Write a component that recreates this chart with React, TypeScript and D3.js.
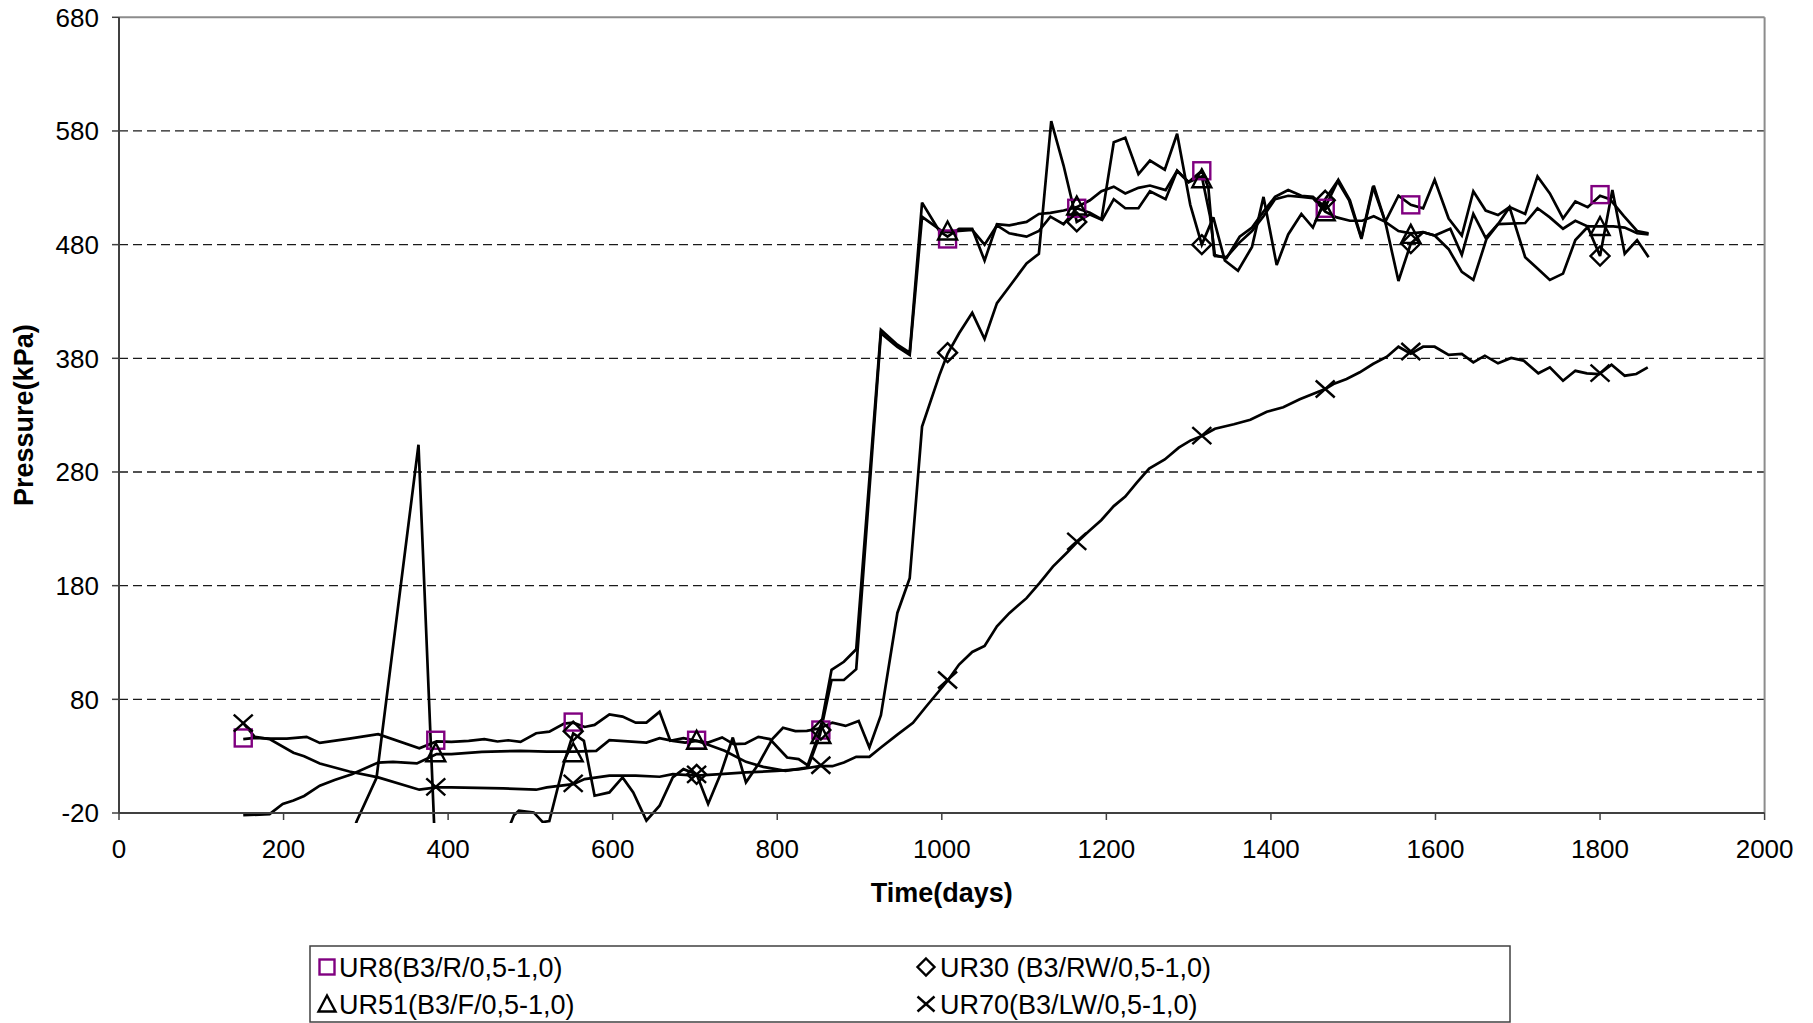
import React from "react";
import * as d3 from "d3";

type P = [number, number];

const xTicks = [0, 200, 400, 600, 800, 1000, 1200, 1400, 1600, 1800, 2000];
const yTicks = [-20, 80, 180, 280, 380, 480, 580, 680];
const gridValues = [80, 180, 280, 380, 480, 580];

const seriesNames = ["UR8(B3/R/0,5-1,0)", "UR30 (B3/RW/0,5-1,0)", "UR51(B3/F/0,5-1,0)", "UR70(B3/LW/0,5-1,0)"];

const ur8Line: P[] = [
  [151,45],[165,46],[183,45.5],[204,45.5],[228,47],[244,41.7],[280,45.5],[315,49.3],[365,37],[386,43],[404,42.6],[425,43.5],[444,45],[460,42.9],[473,44],[488,42.6],[507,50.2],[523,51.6],[541,58.7],[552,59.5],[566,55.7],[578,57.5],[596,66.8],[612,64.8],[628,59.5],[641,59.5],[657,69],[670,43.5],[686,45.8],[702,43.5],[716,40],[736,34.7],[762,25],[783,20.6],[810,17],[836,20],[852,52],[866,106],[881,113],[896,124],[926,405],[946,392],[961,385],[976,517],[997,492],[1007,487],[1021,494],[1037,494],[1052,466],[1067,498],[1082,497],[1103,500],[1118,507],[1132,508],[1148,510],[1164,513],[1180,519],[1194,527],[1209,531],[1223,525],[1239,530],[1253,532],[1272,528],[1286,545],[1300,535],[1316,545],[1324,530],[1331,471],[1346,468],[1362,487],[1377,495],[1391,509],[1405,522],[1421,528],[1437,523],[1451,522],[1466,513],[1482,537],[1496,519],[1510,486],[1524,531],[1539,500],[1555,523],[1570,515],[1585,512],[1599,537],[1616,503],[1632,488],[1646,527],[1661,510],[1676,506],[1690,513],[1709,507],[1724,540],[1739,525],[1755,503],[1770,518],[1785,513],[1800,523],[1812,520],[1829,505],[1845,492],[1859,490]
];

const ur30Line: P[] = [
  [285,-35],[289,-27],[313,11],[364,304],[383,-30],[420,-45],[470,-40],[480,-22],[486,-18],[504,-19.5],[515,-28],[523,-27],[541,24.4],[552,50],[565,43.5],[578,-4.8],[596,-1.9],[612,11.3],[625,-1.9],[641,-26.7],[657,-13.6],[673,11.3],[686,18.6],[702,14],[716,-12],[731,14],[746,46.4],[762,7],[778,24],[794,45],[807,55],[822,52],[836,52.2],[852,54.6],[867,59.5],[883,56.6],[899,61],[912,37.6],[926,66],[946,156],[961,186.5],[976,320],[997,365],[1007,384],[1021,402],[1037,420],[1052,397],[1067,428.6],[1082,443],[1103,463.5],[1118,472],[1133,588.6],[1148,549.6],[1158,519],[1164,500],[1180,506.6],[1194,502],[1209,570],[1223,574],[1239,542],[1253,554],[1271,546],[1286,577.5],[1302,515],[1316,480],[1330,504],[1344,466],[1360,457],[1377,478],[1391,522],[1407,462],[1421,489],[1437,507],[1451,495],[1466,520],[1481,536],[1495,519],[1510,485],[1525,532],[1539,500],[1555,448],[1570,481],[1585,491],[1599,488],[1616,476],[1632,456],[1646,449],[1662,485],[1676,498],[1690,513],[1709,469],[1724,459],[1739,449],[1755,454.5],[1770,484],[1785,495.5],[1800,470],[1815,528],[1830,472],[1845,484],[1859,469]
];

const ur51Line: P[] = [
  [151,-22],[183,-21],[199,-12],[212,-9],[225,-5],[244,4],[262,9],[283,14],[315,24.4],[333,25],[362,23.6],[386,31.8],[404,31.8],[441,33.8],[488,34.7],[520,34],[552,34],[580,34.7],[596,44],[641,42],[657,45.8],[673,43.5],[688,42],[702,43.5],[716,42],[733,46.5],[747,40.6],[761,41],[777,47],[791,45],[812,28.8],[826,27.4],[838,21.5],[852,49],[866,97],[881,97],[896,106.5],[926,402],[946,390],[961,383],[976,504.5],[1000,492],[1007,491],[1021,492],[1037,493],[1052,480],[1067,497],[1082,490],[1103,487],[1118,492],[1132,504.6],[1148,498],[1164,512],[1180,508],[1195,502],[1209,520],[1223,512],[1239,512],[1253,527],[1272,520],[1286,545],[1300,535],[1316,540],[1326,505],[1332,470],[1346,469],[1362,482],[1377,492],[1391,505],[1405,520],[1421,523],[1437,522],[1451,521],[1466,509],[1480,504],[1496,501],[1511,501],[1525,505],[1539,500],[1555,492],[1570,490],[1585,491],[1599,488],[1618,494],[1632,471],[1646,507],[1661,486],[1676,498],[1709,499],[1724,512],[1739,504],[1755,494],[1770,501],[1785,496],[1800,496],[1816,496],[1830,495],[1845,490],[1859,489]
];

const ur70Line: P[] = [
  [151,59],[165,47],[183,45],[212,33],[225,30],[244,23.6],[262,20],[280,16.5],[315,11.3],[365,0.5],[386,2.5],[404,2.5],[467,1.6],[507,0.5],[520,2.5],[552,5.4],[566,9.8],[596,12.8],[628,12.8],[657,11.9],[673,14.2],[702,12.8],[731,14.2],[762,15.7],[799,17],[826,18.3],[851,21.2],[867,21.2],[881,24.4],[896,29.4],[912,29.4],[926,37.6],[946,49],[965,59.3],[981,73.7],[1007,96.3],[1021,110.6],[1037,121.7],[1052,127],[1067,144.3],[1082,155.8],[1103,169],[1119,182.4],[1135,196.8],[1152,209],[1164,218],[1178,227.5],[1194,237.8],[1209,250],[1223,258.3],[1237,270.6],[1252,283],[1271,291],[1288,301.4],[1302,307.6],[1316,311.7],[1332,318],[1355,322],[1375,326],[1395,333],[1415,337],[1435,344],[1466,353],[1476,357.4],[1492,361.8],[1508,367.7],[1524,375],[1541,381.4],[1555,390.2],[1570,384],[1585,390.2],[1599,390.2],[1616,383],[1632,383.8],[1646,376.4],[1660,382.3],[1676,375.6],[1692,380.3],[1707,378],[1725,366.8],[1739,372],[1755,360.3],[1770,369],[1784,366.8],[1799,366.2],[1814,374.4],[1830,364.7],[1844,366.2],[1858,372]
];

const ur8Marks: P[] = [[151,46],[385,44],[552,60],[702,44],[853,53],[1007,485],[1164,512],[1316,545],[1466,512],[1570,515],[1800,524]];
const ur30Marks: P[] = [[552,52],[702,14],[853,53],[1007,385],[1164,500],[1316,480],[1466,519],[1570,481],[1800,470]];
const ur51Marks: P[] = [[385,33],[552,33],[702,44],[853,49],[1007,492],[1164,514],[1316,538],[1466,509],[1570,489],[1800,496]];
const ur70Marks: P[] = [[151,59],[385,3],[552,6],[702,14],[853,22],[1007,97],[1164,219],[1316,312],[1466,353],[1570,386],[1800,367]];

const W = 1813, H = 1023;
const PL = 119, PR = 1764.6, PT = 17.3, PB = 813;
const FONT = "'Liberation Sans', Arial, Helvetica, sans-serif";
const PURPLE = "#800080";

type Kind = "square" | "diamond" | "triangle" | "x";

function Marker({ kind, cx, cy, s = 8.5 }: { kind: Kind; cx: number; cy: number; s?: number }) {
  const sw = 2.4;
  if (kind === "square")
    return <rect x={cx - s} y={cy - s} width={2 * s} height={2 * s} fill="none" stroke={PURPLE} strokeWidth={sw} />;
  if (kind === "diamond")
    return <path d={`M${cx},${cy - s - 1}L${cx + s + 1},${cy}L${cx},${cy + s + 1}L${cx - s - 1},${cy}Z`} fill="none" stroke="#000" strokeWidth={sw} />;
  if (kind === "triangle")
    return <path d={`M${cx},${cy - s - 1}L${cx + s + 1},${cy + s}L${cx - s - 1},${cy + s}Z`} fill="none" stroke="#000" strokeWidth={sw} />;
  return (
    <g stroke="#000" strokeWidth={sw}>
      <line x1={cx - s - 1} y1={cy - s} x2={cx + s + 1} y2={cy + s} />
      <line x1={cx - s - 1} y1={cy + s} x2={cx + s + 1} y2={cy - s} />
    </g>
  );
}

export default function App() {
  const x = d3.scaleLinear().domain([0, 2000]).range([PL, PR]);
  const y = d3.scaleLinear().domain([-20, 680]).range([PB, PT]);
  const line = d3.line<P>().x((d) => x(d[0])).y((d) => y(d[1]));

  const lines = [ur8Line, ur30Line, ur51Line, ur70Line];
  const marks: { kind: Kind; pts: P[] }[] = [
    { kind: "square", pts: ur8Marks },
    { kind: "diamond", pts: ur30Marks },
    { kind: "triangle", pts: ur51Marks },
    { kind: "x", pts: ur70Marks },
  ];

  const legend = [
    { kind: "square" as Kind, name: seriesNames[0], mx: 327, tx: 339, cy: 967 },
    { kind: "diamond" as Kind, name: seriesNames[1], mx: 926, tx: 940, cy: 967 },
    { kind: "triangle" as Kind, name: seriesNames[2], mx: 327, tx: 339, cy: 1004 },
    { kind: "x" as Kind, name: seriesNames[3], mx: 926, tx: 940, cy: 1004 },
  ];

  return (
    <svg
      width={W}
      height={H}
      style={{ position: "absolute", left: 0, top: 0, background: "#fff" }}
      fontFamily={FONT}
    >
      <rect x={0} y={0} width={W} height={H} fill="#fff" />
      <defs>
        <clipPath id="plotclip">
          <rect x={PL} y={PT} width={PR - PL} height={PB - PT + 10} />
        </clipPath>
      </defs>

      {gridValues.map((v) => (
        <line key={v} x1={PL} x2={PR} y1={y(v)} y2={y(v)} stroke="#1a1a1a" strokeWidth={1.3} strokeDasharray="9,5" />
      ))}

      <line x1={PL} x2={PR} y1={PT} y2={PT} stroke="#8c8c8c" strokeWidth={2} />
      <line x1={PR} x2={PR} y1={PT} y2={PB} stroke="#8c8c8c" strokeWidth={2} />

      <g clipPath="url(#plotclip)">
        {lines.map((ln, i) => (
          <path key={i} d={line(ln) || ""} fill="none" stroke="#000" strokeWidth={2.7} strokeLinejoin="miter" strokeMiterlimit={3} />
        ))}
        {marks.map((m) =>
          m.pts
            .filter((p) => p[1] >= -20)
            .map((p, j) => <Marker key={m.kind + j} kind={m.kind} cx={x(p[0])} cy={y(p[1])} />)
        )}
      </g>

      <line x1={PL} x2={PL} y1={PT} y2={PB} stroke="#404040" strokeWidth={2} />
      <line x1={PL} x2={PR} y1={PB} y2={PB} stroke="#404040" strokeWidth={2} />
      {yTicks.map((v) => (
        <g key={v}>
          <line x1={PL - 7} x2={PL} y1={y(v)} y2={y(v)} stroke="#404040" strokeWidth={1.5} />
          <text x={99} y={y(v)} dy="0.36em" textAnchor="end" fontSize={26} fill="#000">
            {v}
          </text>
        </g>
      ))}
      {xTicks.map((v) => (
        <g key={v}>
          <line x1={x(v)} x2={x(v)} y1={PB} y2={PB + 7} stroke="#404040" strokeWidth={1.5} />
          <text x={x(v)} y={858} textAnchor="middle" fontSize={26} fill="#000">
            {v}
          </text>
        </g>
      ))}

      <text x={(PL + PR) / 2} y={902} textAnchor="middle" fontSize={27} fontWeight="bold" fill="#000">
        Time(days)
      </text>
      <text
        transform={`translate(23,${(PT + PB) / 2}) rotate(-90)`}
        textAnchor="middle"
        dy="0.36em"
        fontSize={27}
        fontWeight="bold"
        fill="#000"
      >
        Pressure(kPa)
      </text>

      <rect x={310} y={946} width={1200} height={76} fill="#fff" stroke="#404040" strokeWidth={1.5} />
      {legend.map((l) => (
        <g key={l.name}>
          <Marker kind={l.kind} cx={l.mx} cy={l.cy} s={7.5} />
          <text x={l.tx} y={l.cy} dy="0.36em" fontSize={27} fill="#000">
            {l.name}
          </text>
        </g>
      ))}
    </svg>
  );
}
